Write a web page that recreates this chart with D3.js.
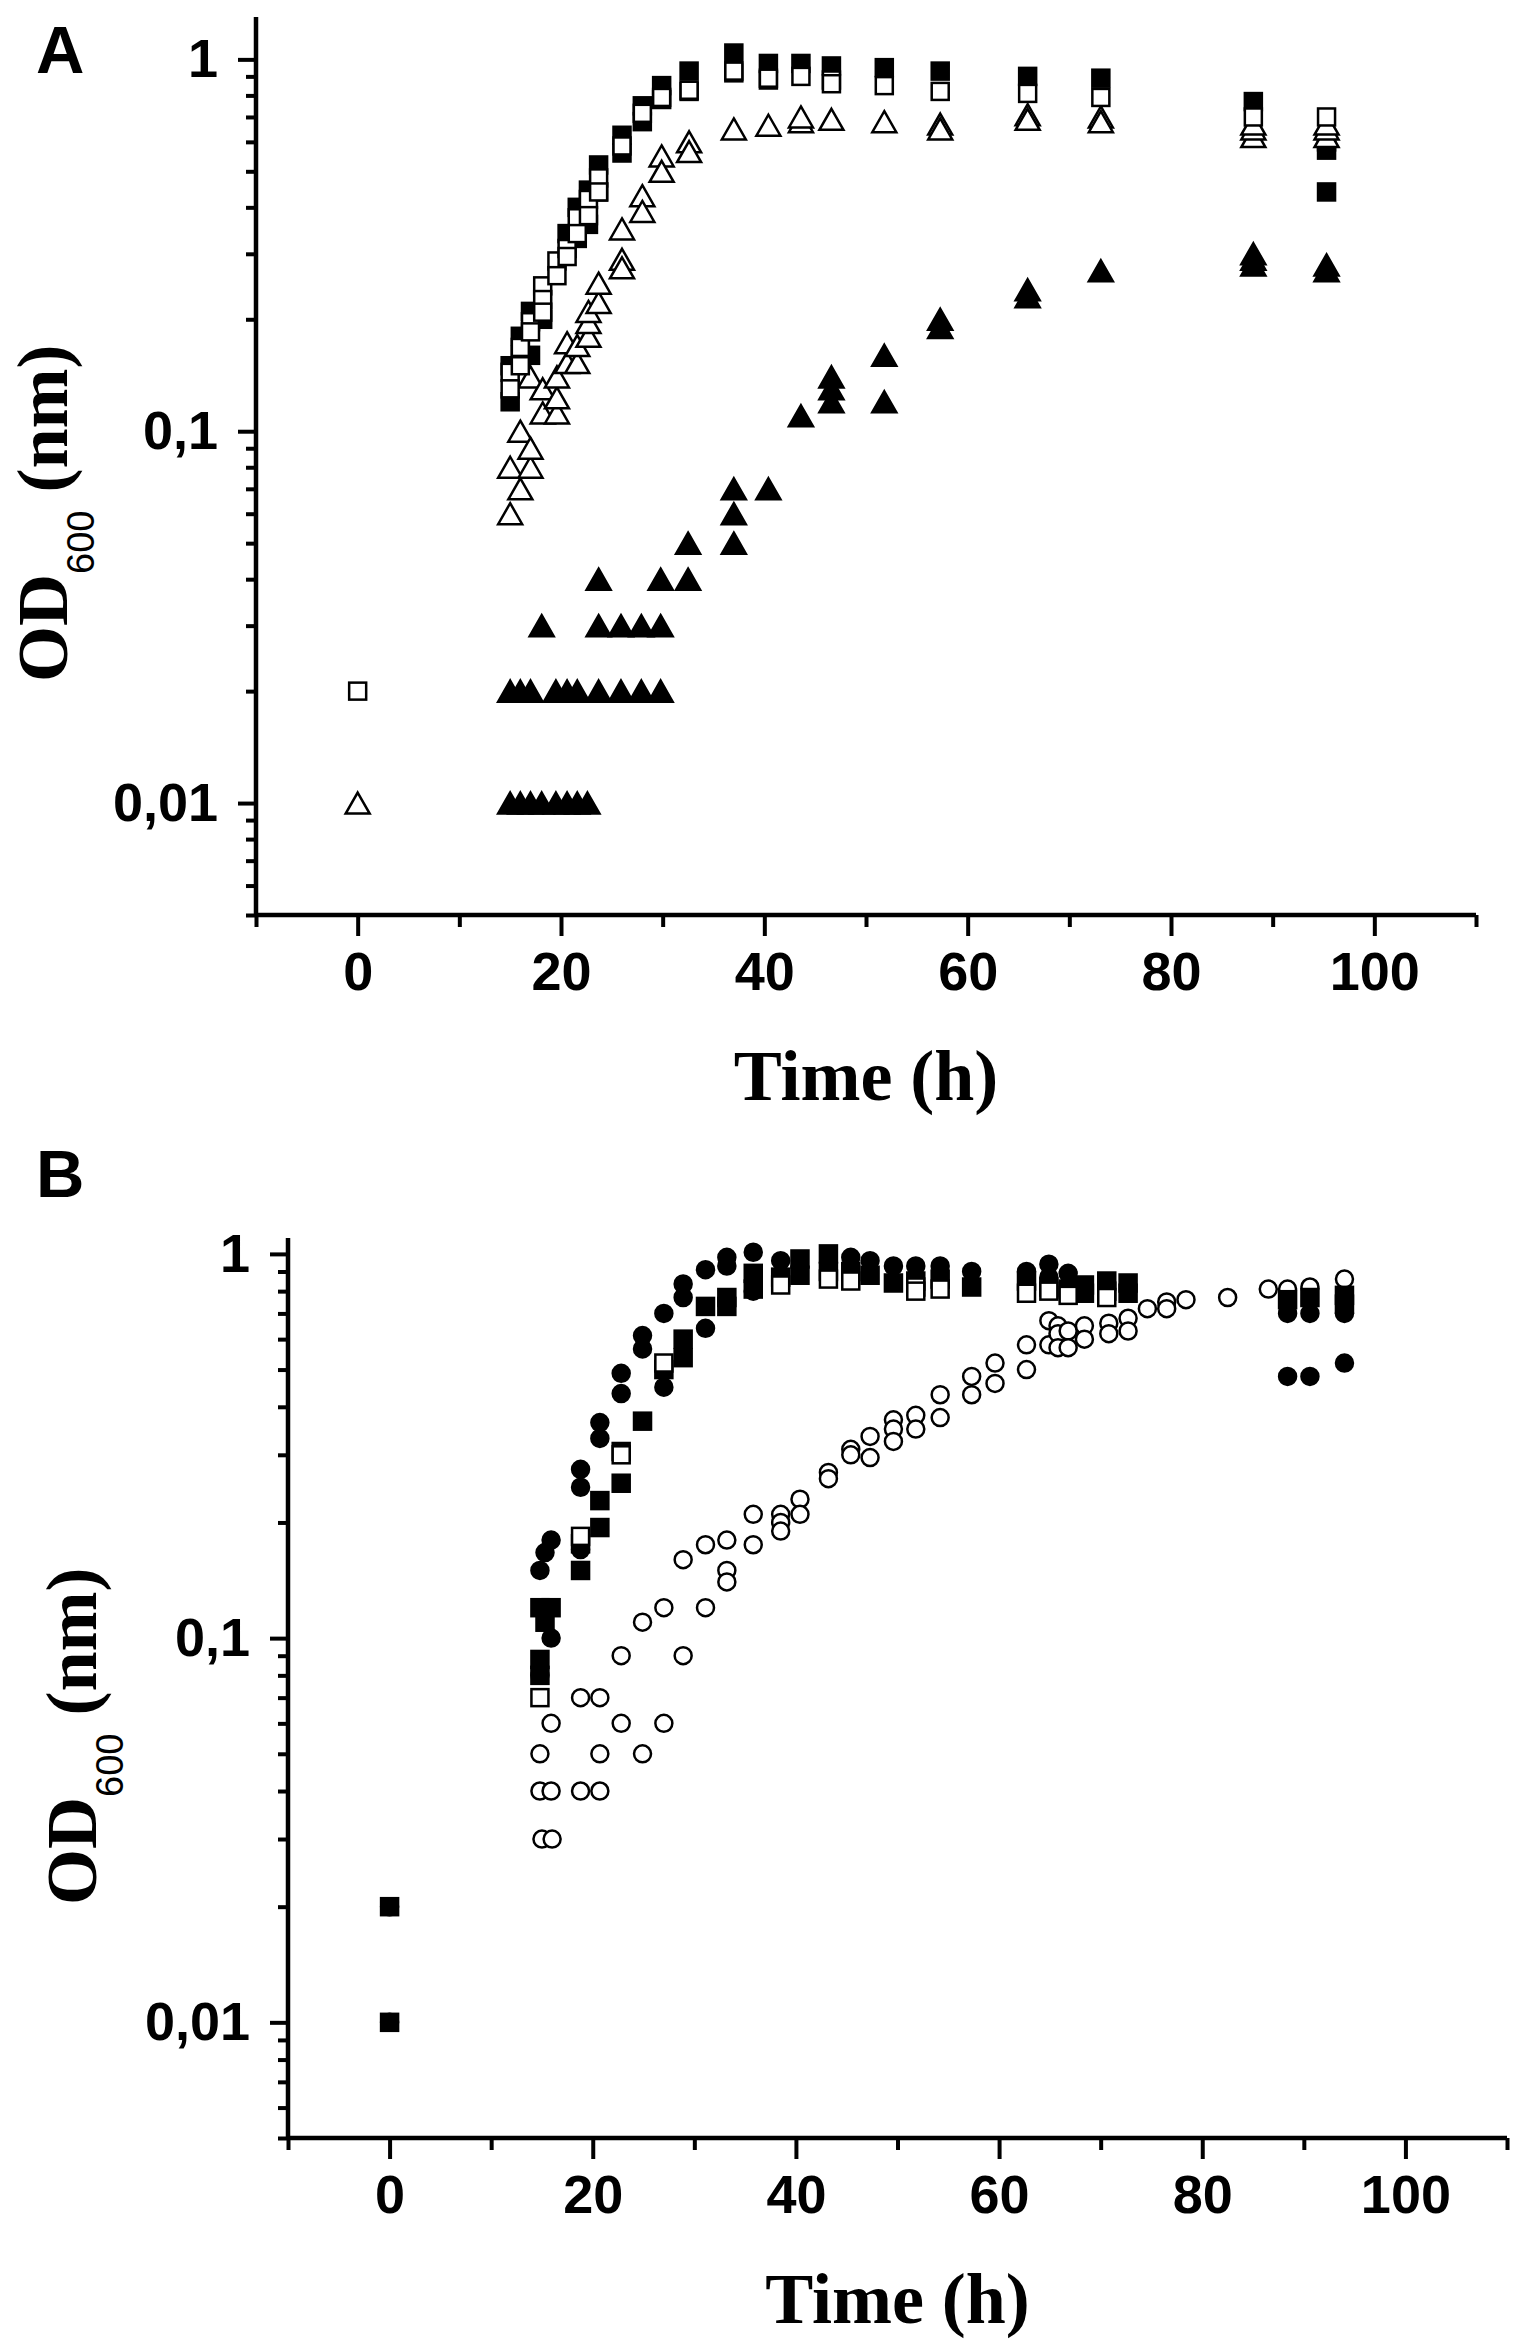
<!DOCTYPE html>
<html>
<head>
<meta charset="utf-8">
<script src="https://cdn.jsdelivr.net/npm/d3@7"></script>
<style>
    html, body { margin: 0; padding: 0; background: #fff; }
    svg { display: block; }
</style>
</head>
<body>
<div id="chart"></div>
<script>
// ---- axis values ----
const xDomain = [-10, 110];
const xMajorTicks = [0, 20, 40, 60, 80, 100];
const xMinorTicks = [-10, 10, 30, 50, 70, 90, 110];
const yMajorTicks = [0.01, 0.1, 1];
const yMajorLabels = ['0,01', '0,1', '1'];
const yDomainA = [0.005, 1.3];
const yDomainB = [0.005, 1.1];

// ---- panel A : [time (h), OD600] ----
const aFilledSquares = [
    [15, 0.15], [15, 0.12], [16, 0.18], [16, 0.16], [17, 0.21], [17, 0.16],
    [18.2, 0.20], [20.6, 0.34], [21.6, 0.40], [21.6, 0.33], [22.7, 0.445], [22.7, 0.36],
    [23.7, 0.52], [23.7, 0.44], [26, 0.625], [26, 0.56], [28, 0.75], [28, 0.68],
    [29.9, 0.85], [29.9, 0.78], [32.6, 0.93], [32.6, 0.82], [37, 1.04], [37, 0.92],
    [40.4, 0.975], [40.4, 0.88], [43.6, 0.975], [46.6, 0.96], [51.8, 0.95], [57.3, 0.93],
    [65.9, 0.90], [73.1, 0.89], [88.1, 0.77], [95.3, 0.60], [95.3, 0.57], [95.3, 0.44]
];
const aOpenSquares = [
    [0, 0.02],
    [15, 0.144], [15, 0.13], [16, 0.168], [16, 0.15], [17, 0.197], [17, 0.185],
    [18.2, 0.246], [18.2, 0.226], [18.2, 0.209], [19.6, 0.287], [19.6, 0.262],
    [20.6, 0.31], [20.6, 0.295], [21.6, 0.375], [21.6, 0.34], [22.7, 0.42], [22.7, 0.38],
    [23.7, 0.48], [23.7, 0.44], [26, 0.585], [28, 0.716], [29.9, 0.79], [32.6, 0.826],
    [37, 0.93], [40.4, 0.89], [43.6, 0.90], [46.6, 0.88], [46.6, 0.86], [51.8, 0.85],
    [57.3, 0.82], [65.9, 0.81], [73.1, 0.79], [88.1, 0.70], [95.3, 0.70]
];
const aOpenTriangles = [
    [0, 0.01],
    [15, 0.06], [15, 0.08], [16, 0.07], [16, 0.10], [17, 0.08], [17, 0.09], [17, 0.14],
    [18.2, 0.13], [18.2, 0.112], [19.6, 0.112], [19.6, 0.123], [19.6, 0.14],
    [20.6, 0.153], [20.6, 0.173], [21.6, 0.153], [21.6, 0.17],
    [22.7, 0.18], [22.7, 0.196], [22.7, 0.21], [23.7, 0.222], [23.7, 0.25],
    [26, 0.35], [26, 0.29], [26, 0.275], [28, 0.43], [28, 0.39], [29.9, 0.55], [29.9, 0.50],
    [32.6, 0.60], [32.6, 0.565], [37, 0.65], [40.4, 0.665], [43.6, 0.68], [43.6, 0.70],
    [46.6, 0.69], [51.8, 0.68], [57.3, 0.67], [57.3, 0.65], [65.9, 0.71], [65.9, 0.69],
    [73.1, 0.70], [73.1, 0.68], [88.1, 0.62], [88.1, 0.65], [88.1, 0.67],
    [95.3, 0.62], [95.3, 0.65], [95.3, 0.67]
];
const aFilledTriangles = [
    [15, 0.01], [16, 0.01], [17, 0.01], [18.1, 0.01], [19.5, 0.01], [20.6, 0.01], [21.6, 0.01], [22.6, 0.01],
    [15, 0.02], [16, 0.02], [17, 0.02], [19.5, 0.02], [20.6, 0.02], [21.6, 0.02],
    [23.7, 0.02], [25.9, 0.02], [27.9, 0.02], [29.8, 0.02],
    [18.1, 0.03], [23.7, 0.03], [25.9, 0.03], [27.9, 0.03], [29.8, 0.03],
    [23.7, 0.04], [29.8, 0.04], [32.5, 0.04],
    [32.5, 0.05], [37, 0.05], [37, 0.06], [37, 0.07], [40.4, 0.07],
    [43.6, 0.11], [46.6, 0.12], [46.6, 0.13], [46.6, 0.14], [51.8, 0.16], [51.8, 0.12],
    [57.3, 0.19], [57.3, 0.20], [65.9, 0.23], [65.9, 0.24], [73.1, 0.27],
    [88.1, 0.28], [88.1, 0.29], [88.1, 0.30], [95.3, 0.27], [95.3, 0.28]
];

// ---- panel B : [time (h), OD600] ----
const bOpenCircles = [
    [15, 0.03], [16, 0.03], [14.8, 0.05], [14.8, 0.04], [15.9, 0.04], [15.9, 0.06],
    [18.8, 0.07], [18.8, 0.04], [20.7, 0.07], [20.7, 0.05], [20.7, 0.04],
    [22.8, 0.09], [22.8, 0.06], [24.9, 0.11], [24.9, 0.05], [27, 0.12], [27, 0.06],
    [28.9, 0.16], [28.9, 0.09], [31.1, 0.175], [31.1, 0.12],
    [33.2, 0.18], [33.2, 0.15], [33.2, 0.14], [35.8, 0.21], [35.8, 0.175],
    [38.5, 0.21], [38.5, 0.20], [38.5, 0.19], [40.4, 0.23], [40.4, 0.21],
    [43.2, 0.27], [43.2, 0.26], [45.4, 0.31], [45.4, 0.30], [47.3, 0.335], [47.3, 0.295],
    [49.6, 0.37], [49.6, 0.35], [49.6, 0.325], [51.8, 0.38], [51.8, 0.35],
    [54.2, 0.43], [54.2, 0.375], [57.3, 0.48], [57.3, 0.43], [59.6, 0.52], [59.6, 0.46],
    [62.7, 0.58], [62.7, 0.50], [64.9, 0.67], [64.9, 0.58],
    [65.8, 0.65], [65.8, 0.62], [65.8, 0.57], [66.8, 0.63], [66.8, 0.57],
    [68.4, 0.65], [68.4, 0.60], [70.8, 0.66], [70.8, 0.62], [72.7, 0.68], [72.7, 0.63],
    [74.6, 0.72], [76.5, 0.75], [76.5, 0.72], [78.4, 0.76], [82.5, 0.77],
    [86.5, 0.81], [88.4, 0.81], [90.6, 0.82], [94, 0.86]
];
const bFilledSquares = [
    [0, 0.02], [0, 0.01],
    [14.8, 0.12], [15.9, 0.12], [15.3, 0.11], [14.8, 0.088], [14.8, 0.08],
    [18.8, 0.176], [18.8, 0.15], [20.7, 0.228], [20.7, 0.194], [22.8, 0.306], [22.8, 0.253],
    [24.9, 0.367], [27, 0.50], [28.9, 0.60], [28.9, 0.537], [31.1, 0.73],
    [33.2, 0.77], [33.2, 0.73], [35.8, 0.89], [35.8, 0.81], [38.5, 0.87],
    [40.4, 0.97], [40.4, 0.88], [43.2, 1.0], [43.2, 0.90], [45.4, 0.90], [47.3, 0.88],
    [49.6, 0.84], [51.8, 0.85], [54.2, 0.86], [57.3, 0.82], [62.7, 0.85], [64.9, 0.82],
    [66.8, 0.81], [68.4, 0.83], [68.4, 0.79], [70.6, 0.85], [70.6, 0.80],
    [72.7, 0.84], [72.7, 0.79], [88.4, 0.76], [90.6, 0.77], [94, 0.78], [94, 0.74]
];
const bFilledCircles = [
    [0, 0.02], [0, 0.01],
    [14.8, 0.15], [15.3, 0.167], [15.9, 0.18], [15.9, 0.10], [14.8, 0.08],
    [18.8, 0.275], [18.8, 0.247], [18.8, 0.17], [20.7, 0.364], [20.7, 0.331],
    [22.8, 0.489], [22.8, 0.433], [24.9, 0.613], [24.9, 0.566], [27, 0.70], [27, 0.45],
    [28.9, 0.835], [28.9, 0.77], [31.1, 0.91], [31.1, 0.64], [33.2, 0.98], [33.2, 0.93],
    [35.8, 1.01], [35.8, 0.80], [38.5, 0.96], [45.4, 0.98], [47.3, 0.96], [49.6, 0.93],
    [51.8, 0.93], [54.2, 0.93], [57.3, 0.90], [62.7, 0.90], [64.9, 0.94], [64.9, 0.87],
    [66.8, 0.89], [88.4, 0.70], [88.4, 0.48], [90.6, 0.70], [90.6, 0.48],
    [94, 0.70], [94, 0.52]
];
const bOpenSquares = [
    [14.8, 0.07], [18.8, 0.184], [22.8, 0.30], [27, 0.52], [38.5, 0.83], [43.2, 0.86],
    [45.4, 0.85], [51.8, 0.82], [51.8, 0.80], [54.2, 0.81], [62.7, 0.79], [64.9, 0.80],
    [66.8, 0.78], [70.6, 0.77]
];

const WIDTH = 1520;
const HEIGHT = 2344;
const SQUARE = 17;
const TRI_W = 24;
const TRI_H = 21;
const CIRCLE_R = 8.5;
const MARK_STROKE = 2.5;

const SANS = '"Liberation Sans", Arial, Helvetica, sans-serif';
const SERIF = '"Liberation Serif", "Times New Roman", Times, serif';

/**
 * Draw one marker series
 * @param {Object} g - d3 selection
 * @param {Array} data - [time, od] pairs
 * @param {string} shape - 'square' | 'triangle' | 'circle'
 * @param {boolean} filled
 */
function drawSeries(g, data, shape, filled, x, y) {
    const fill = filled ? '#000' : '#fff';
    const layer = g.append('g')
        .attr('fill', fill)
        .attr('stroke', '#000')
        .attr('stroke-width', MARK_STROKE);

    if (shape === 'square') {
        layer.selectAll('rect')
            .data(data)
            .enter()
            .append('rect')
            .attr('x', d => x(d[0]) - SQUARE / 2)
            .attr('y', d => y(d[1]) - SQUARE / 2)
            .attr('width', SQUARE)
            .attr('height', SQUARE);
    } else if (shape === 'circle') {
        layer.selectAll('circle')
            .data(data)
            .enter()
            .append('circle')
            .attr('cx', d => x(d[0]))
            .attr('cy', d => y(d[1]))
            .attr('r', CIRCLE_R);
    } else {
        // triangle centred on its bounding box
        const tri = `M0,${-TRI_H / 2}L${TRI_W / 2},${TRI_H / 2}L${-TRI_W / 2},${TRI_H / 2}Z`;
        layer.selectAll('path')
            .data(data)
            .enter()
            .append('path')
            .attr('d', tri)
            .attr('stroke-linejoin', 'miter')
            .attr('transform', d => `translate(${x(d[0])},${y(d[1])})`);
    }
}

/**
 * Draw axes, titles and series for one panel
 * @param {Object} svg - root selection
 * @param {Object} cfg - panel layout + series list
 */
function drawPanel(svg, cfg) {
    const g = svg.append('g');

    const x = d3.scaleLinear().domain(xDomain).range([cfg.left, cfg.right]);
    const y = d3.scaleLog().domain(cfg.yDomain).range([cfg.bottom, cfg.top]);

    // X axis: major ticks with labels, shorter minor ticks
    const xMajor = g.append('g')
        .attr('transform', `translate(0,${cfg.bottom})`)
        .call(d3.axisBottom(x)
            .tickValues(xMajorTicks)
            .tickSize(21)
            .tickSizeOuter(0)
            .tickPadding(16)
            .tickFormat(d3.format('d')));
    const xMinor = g.append('g')
        .attr('transform', `translate(0,${cfg.bottom})`)
        .call(d3.axisBottom(x)
            .tickValues(xMinorTicks)
            .tickSize(12)
            .tickSizeOuter(0)
            .tickFormat(''));

    // Y axis: decades labelled, 2..9 minor ticks
    const minorY = y.ticks().filter(v => !yMajorTicks.some(m => Math.abs(m - v) < 1e-9));
    const yMajor = g.append('g')
        .attr('transform', `translate(${cfg.left},0)`)
        .call(d3.axisLeft(y)
            .tickValues(yMajorTicks)
            .tickSize(18)
            .tickSizeOuter(0)
            .tickPadding(20)
            .tickFormat((d, i) => yMajorLabels[i]));
    const yMinor = g.append('g')
        .attr('transform', `translate(${cfg.left},0)`)
        .call(d3.axisLeft(y)
            .tickValues(minorY)
            .tickSize(10)
            .tickSizeOuter(0)
            .tickFormat(''));

    [xMajor, xMinor, yMajor, yMinor].forEach(ax => {
        ax.select('.domain').remove();
        ax.selectAll('.tick line').attr('stroke', '#000').attr('stroke-width', 4);
        ax.selectAll('.tick text')
            .attr('fill', '#000')
            .style('font-family', SANS)
            .style('font-weight', 'bold')
            .style('font-size', '54px');
    });

    // Axis lines
    g.append('line')
        .attr('x1', x.range()[0]).attr('x2', x.range()[1])
        .attr('y1', cfg.bottom).attr('y2', cfg.bottom)
        .attr('stroke', '#000').attr('stroke-width', 4.5);
    g.append('line')
        .attr('x1', cfg.left).attr('x2', cfg.left)
        .attr('y1', y.range()[1]).attr('y2', y.range()[0] + 2)
        .attr('stroke', '#000').attr('stroke-width', 4.5);

    // Series
    cfg.series.forEach(s => drawSeries(g, s.data, s.shape, s.filled, x, y));

    // X title
    g.append('text')
        .attr('x', (cfg.left + cfg.right) / 2)
        .attr('y', cfg.bottom + 185)
        .attr('text-anchor', 'middle')
        .style('font-family', SERIF)
        .style('font-weight', 'bold')
        .style('font-size', '72px')
        .text('Time (h)');

    // Y title with subscript
    const yTitle = g.append('text')
        .attr('transform', `translate(${cfg.titleX},${cfg.bottom - 233}) rotate(-90)`)
        .attr('text-anchor', 'start')
        .style('font-family', SERIF)
        .style('font-weight', 'bold')
        .style('font-size', '72px');
    yTitle.append('tspan').text('OD');
    yTitle.append('tspan')
        .attr('dy', 27)
        .style('font-family', SANS)
        .style('font-weight', 'normal')
        .style('font-size', '38px')
        .text('600');
    yTitle.append('tspan')
        .attr('dy', -27)
        .text(' (nm)');

    // Panel letter
    g.append('text')
        .attr('x', 36)
        .attr('y', cfg.letterY)
        .style('font-family', SANS)
        .style('font-weight', 'bold')
        .style('font-size', '67px')
        .text(cfg.letter);
}

const svg = d3.select('#chart')
    .append('svg')
    .attr('width', WIDTH)
    .attr('height', HEIGHT)
    .attr('viewBox', `0 0 ${WIDTH} ${HEIGHT}`);

svg.append('rect').attr('width', WIDTH).attr('height', HEIGHT).attr('fill', '#fff');

drawPanel(svg, {
    letter: 'A', letterY: 73, titleX: 67,
    left: 256, right: 1476, top: 17, bottom: 915,
    yDomain: yDomainA,
    series: [
        { data: aFilledTriangles, shape: 'triangle', filled: true },
        { data: aFilledSquares, shape: 'square', filled: true },
        { data: aOpenTriangles, shape: 'triangle', filled: false },
        { data: aOpenSquares, shape: 'square', filled: false }
    ]
});

drawPanel(svg, {
    letter: 'B', letterY: 1197, titleX: 96,
    left: 288, right: 1507, top: 1238, bottom: 2138,
    yDomain: yDomainB,
    series: [
        { data: bOpenCircles, shape: 'circle', filled: false },
        { data: bFilledSquares, shape: 'square', filled: true },
        { data: bFilledCircles, shape: 'circle', filled: true },
        { data: bOpenSquares, shape: 'square', filled: false }
    ]
});
</script>
</body>
</html>
